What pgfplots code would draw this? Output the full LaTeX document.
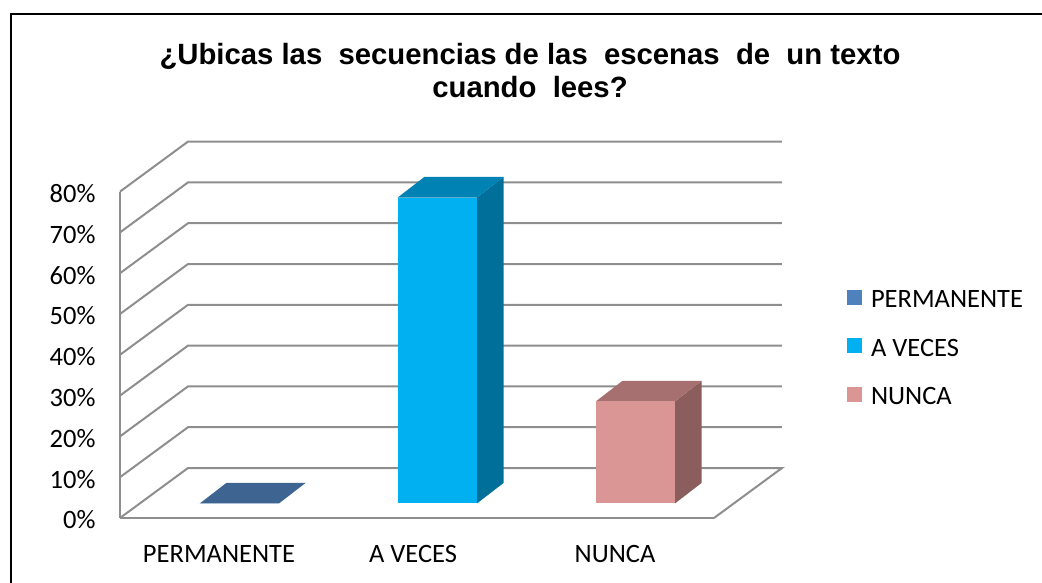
\documentclass[border=0pt]{standalone}
\usepackage{pgfplots}
\usepackage{fontspec}
\pgfplotsset{compat=1.18}
\setmainfont{Carlito}
\newfontfamily\titlefont{Liberation Sans}
\definecolor{gridc}{HTML}{8E8E8E}
\definecolor{pf}{HTML}{4F81BD}
\definecolor{pt}{HTML}{3E6592}
\definecolor{af}{HTML}{00B0F0}
\definecolor{at}{HTML}{0083B4}
\definecolor{as}{HTML}{006F99}
\definecolor{nf}{HTML}{D99694}
\definecolor{nt}{HTML}{A5706F}
\definecolor{ns}{HTML}{8B5E5D}
\begin{document}
\begin{tikzpicture}[x=1pt,y=1pt]
\path[use as bounding box] (0,0) rectangle (1042,583);
\draw[black,line width=2pt] (10.5,0) -- (10.5,569) -- (1042,569);
\node[font=\titlefont\bfseries\fontsize{29.3}{33}\selectfont,align=center,anchor=center] at (530,512)
  {¿Ubicas las\ \ secuencias de las\ \ escenas\ \ de\ \ un texto\\cuando\ \ lees?};
\begin{axis}[
  at={(120pt,65pt)},anchor=south west,
  scale only axis,width=594pt,height=326.4pt,
  xmin=-0.5,xmax=2.5,ymin=0,ymax=80,
  clip=false,
  axis x line=bottom,axis y line=left,
  axis line style={-,draw=gridc,line width=2pt},
  major tick length=0pt,
  xtick={0,0.98,2},xticklabels={PERMANENTE,A VECES,NUNCA},
  ytick={0,10,20,30,40,50,60,70,80},
  yticklabels={0\%,10\%,20\%,30\%,40\%,50\%,60\%,70\%,80\%},
  tick label style={font=\fontsize{26.5}{26.5}\selectfont},
  yticklabel style={xshift=-21pt,yshift=-2pt},
  xticklabel style={yshift=-24pt},
  legend style={at={(847pt-120pt,518pt-289pt)},anchor=north west,draw=none,fill=none,inner sep=0pt,outer sep=0pt,
    font=\fontsize{26.5}{26.5}\selectfont,row sep=25.5pt,legend cell align=left,
    /tikz/every odd column/.style={column sep=7pt}},
  grid3d/.style={draw=gridc,line width=2pt,forget plot,no markers,line join=miter},
  shift3d/.style={xshift=20.3pt,yshift=14.5pt},
  face3d/.style={shift3d,draw=none,forget plot,no markers},
  legend image code/.code={\fill[#1] (0pt,-19.5pt) rectangle (15pt,-4.5pt);},
]
% side wall and back wall grid lines, floor
\addplot[grid3d] coordinates {(-0.5,0) (-0.1566,12.25) (2.8434,12.25) (2.5,0)};
\addplot[grid3d] coordinates {(-0.5,10) (-0.1566,22.25) (2.8434,22.25)};
\addplot[grid3d] coordinates {(-0.5,20) (-0.1566,32.25) (2.8434,32.25)};
\addplot[grid3d] coordinates {(-0.5,30) (-0.1566,42.25) (2.8434,42.25)};
\addplot[grid3d] coordinates {(-0.5,40) (-0.1566,52.25) (2.8434,52.25)};
\addplot[grid3d] coordinates {(-0.5,50) (-0.1566,62.25) (2.8434,62.25)};
\addplot[grid3d] coordinates {(-0.5,60) (-0.1566,72.25) (2.8434,72.25)};
\addplot[grid3d] coordinates {(-0.5,70) (-0.1566,82.25) (2.8434,82.25)};
\addplot[grid3d] coordinates {(-0.5,80) (-0.1566,92.25) (2.8434,92.25)};
% PERMANENTE
\addplot[face3d,fill=pt] coordinates {(-0.2,0) (0.2,0) (0.335,5.05) (-0.065,5.05)} --cycle;
\addplot[ybar,bar width=79.5pt,bar shift=0pt,shift3d,draw=none,fill=pf] coordinates {(0,0)};
\addlegendentry{PERMANENTE}
% A VECES
\addplot[face3d,fill=as] coordinates {(1.2,0) (1.335,5.05) (1.335,80.05) (1.2,75)} --cycle;
\addplot[face3d,fill=at] coordinates {(0.8,75) (1.2,75) (1.335,80.05) (0.935,80.05)} --cycle;
\addplot[ybar,bar width=79.5pt,bar shift=0pt,shift3d,draw=none,fill=af] coordinates {(1,75)};
\addlegendentry{A VECES}
% NUNCA
\addplot[face3d,fill=ns] coordinates {(2.2,0) (2.335,5.05) (2.335,30.05) (2.2,25)} --cycle;
\addplot[face3d,fill=nt] coordinates {(1.8,25) (2.2,25) (2.335,30.05) (1.935,30.05)} --cycle;
\addplot[ybar,bar width=79.5pt,bar shift=0pt,shift3d,draw=none,fill=nf] coordinates {(2,25)};
\addlegendentry{NUNCA}
\end{axis}
\end{tikzpicture}
\end{document}
